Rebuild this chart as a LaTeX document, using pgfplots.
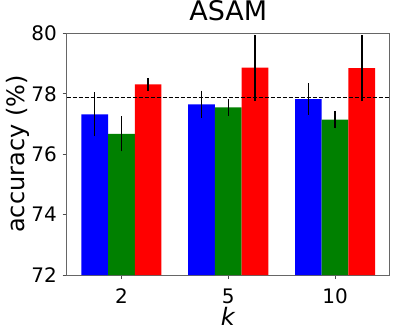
\documentclass[border=0pt]{standalone}
\usepackage{fontspec}
\setmainfont{DejaVu Sans}
\usepackage{pgfplots}
\pgfplotsset{compat=1.18}
\definecolor{mplgreen}{RGB}{0,128,0}
\begin{document}
\begin{tikzpicture}
\begin{axis}[
  scale only axis, width=323.1pt, height=241.7pt,
  at={(0pt,0pt)}, anchor=south west,
  ybar, bar width=0.25,
  xmin=-0.5125, xmax=2.5125, ymin=72, ymax=80,
  xtick={0,1,2}, xticklabels={2,5,10},
  ytick={72,74,76,78,80},
  /pgf/number format/assume math mode=true,
  tick align=outside, major tick length=4pt,
  xtick pos=bottom, ytick pos=left,
  axis line style={black!60, line width=1pt},
  tick style={black!70, line width=1pt},
  yticklabel style={font=\fontsize{20}{24}\selectfont, anchor=east, inner sep=0pt, xshift=-5.7pt},
  xticklabel style={font=\fontsize{20}{24}\selectfont, anchor=base, inner sep=0pt, yshift=-24pt},
  title={ASAM},
  title style={font=\fontsize{27}{32}\selectfont, at={(axis description cs:0.5,1)}, anchor=base, inner sep=0pt, yshift=6.6pt},
  xlabel={\textit{k}},
  xlabel style={font=\fontsize{24}{28}\selectfont, at={(axis description cs:0.5,0)}, anchor=base, inner sep=0pt, yshift=-50pt},
  ylabel={accuracy (\%)},
  ylabel style={font=\fontsize{24}{28}\selectfont, at={([xshift=-41.8pt]axis description cs:0,0.5)}, anchor=base, inner sep=0pt},
  error bars/y dir=both, error bars/y explicit, error bars/error mark=none,
  error bars/error bar style={black, line width=1.5pt, solid},
]
\addplot[bar shift=-0.25, fill=blue, draw=none]
  coordinates {(0,77.32) +- (0,0.73) (1,77.65) +- (0,0.45) (2,77.82) +- (0,0.52)};
\addplot[bar shift=0, fill=mplgreen, draw=none]
  coordinates {(0,76.67) +- (0,0.58) (1,77.55) +- (0,0.28) (2,77.14) +- (0,0.29)};
\addplot[bar shift=0.25, fill=red, draw=none]
  coordinates {(0,78.31) +- (0,0.21) (1,78.86) +- (0,1.10) (2,78.85) +- (0,1.10)};
\addplot[sharp plot, black, line width=1pt, dash pattern=on 4pt off 2pt, mark=none, error bars/y dir=none]
  coordinates {(-0.5125,77.89) (2.5125,77.89)};
\end{axis}
\pgfresetboundingbox
\useasboundingbox (-66.7pt,-60pt) rectangle (327.3pt,275pt);
\end{tikzpicture}
\end{document}
